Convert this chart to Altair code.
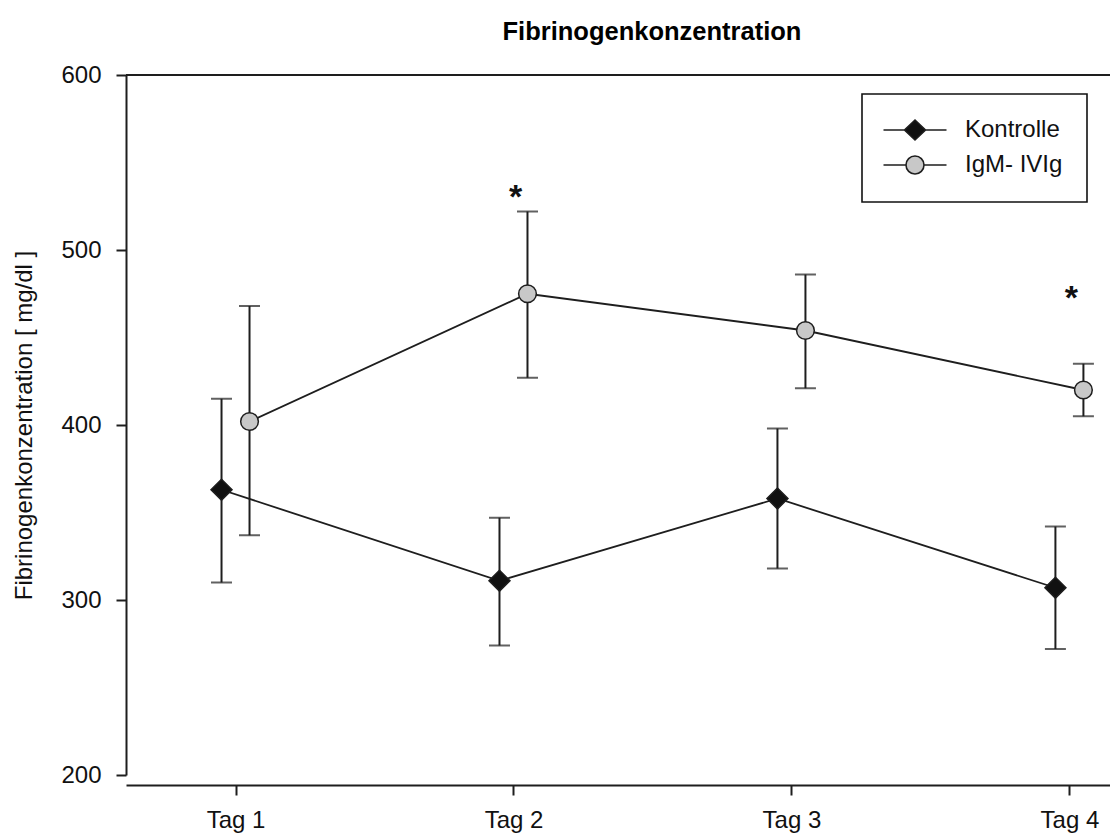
import altair as alt
import pandas as pd

# ---- data ----
tags = [1, 2, 3, 4]
groups = ["Kontrolle", "IgM- IVIg"]

kontrolle_mean = [363, 311, 358, 307]
kontrolle_lo = [310, 274, 318, 272]
kontrolle_hi = [415, 347, 398, 342]

igm_mean = [402, 475, 454, 420]
igm_lo = [337, 427, 421, 405]
igm_hi = [468, 522, 486, 435]

star_tags = [2, 4]
star_values = [534, 476]

y_ticks = [200, 300, 400, 500, 600]

FONT = "Liberation Sans"
INK = "#1e1e1e"

rows = []
for i, t in enumerate(tags):
    rows.append(dict(tag=t, group=groups[0], mean=kontrolle_mean[i], lo=kontrolle_lo[i], hi=kontrolle_hi[i]))
for i, t in enumerate(tags):
    rows.append(dict(tag=t, group=groups[1], mean=igm_mean[i], lo=igm_lo[i], hi=igm_hi[i]))
df = pd.DataFrame(rows)
stars = pd.DataFrame(dict(tag=star_tags, value=star_values, txt=["*"] * len(star_tags)))
frame = pd.DataFrame(dict(v=[600]))

W, H = 984, 700
xscale = alt.Scale(domain=[0.606, 4.146], nice=False, zero=False)
yscale = alt.Scale(domain=[200, 600], nice=False, zero=False)

xaxis = alt.Axis(values=tags, labelExpr="'Tag ' + datum.value", title=None, grid=False,
                 offset=10, tickSize=10, labelPadding=13)
yaxis = alt.Axis(values=y_ticks, title="Fibrinogenkonzentration [ mg/dl ]", grid=False,
                 tickSize=10, labelPadding=15, titlePadding=24)

X = alt.X("tag:Q", scale=xscale, axis=xaxis)
Y = alt.Y("mean:Q", scale=yscale, axis=yaxis)

styles = {
    groups[0]: dict(off=-14, shape="diamond", fill="#111111", size=441),
    groups[1]: dict(off=14, shape="circle", fill="#c8c8c8", size=313),
}

layers = []
for g in groups:
    s = styles[g]
    base = alt.Chart(df).transform_filter(alt.datum.group == g)
    line = base.mark_line(color=INK, strokeWidth=1.8, xOffset=s["off"]).encode(x=X, y=Y, order="tag:Q")
    err = base.mark_rule(color=INK, strokeWidth=2, xOffset=s["off"]).encode(
        x=X, y=alt.Y("lo:Q", scale=yscale, axis=yaxis), y2="hi:Q")
    cap_hi = base.mark_tick(color=INK, thickness=2, size=21, orient="horizontal", xOffset=s["off"]).encode(
        x=X, y=alt.Y("hi:Q", scale=yscale, axis=yaxis))
    cap_lo = base.mark_tick(color=INK, thickness=2, size=21, orient="horizontal", xOffset=s["off"]).encode(
        x=X, y=alt.Y("lo:Q", scale=yscale, axis=yaxis))
    layers += [line, err, cap_hi, cap_lo]

for g in groups:
    s = styles[g]
    pts = alt.Chart(df).transform_filter(alt.datum.group == g).mark_point(
        shape=s["shape"], filled=True, fill=s["fill"], stroke=INK, strokeWidth=1.5,
        size=s["size"], opacity=1, xOffset=s["off"]).encode(x=X, y=Y)
    layers.append(pts)

# legend carrier (invisible marks; legend symbols are a line with the marker)
diamond_leg = "M-3,0H-1M1,0H3M0,-0.95L1,0L0,0.95L-1,0Z"
circle_leg = "M-3,0H-0.857M0.857,0H3M-0.857,0A0.857,0.857 0 1,0 0.857,0A0.857,0.857 0 1,0 -0.857,0Z"
leg = alt.Legend(title=None, orient="none", legendX=736, legendY=19, padding=24,
                 symbolOpacity=1, symbolSize=441, symbolOffset=17, labelOffset=38,
                 symbolStrokeColor=INK, symbolStrokeWidth=1.6, labelFontSize=24,
                 labelFont=FONT, labelColor="#111", rowPadding=8, strokeColor="#111")
legend_layer = alt.Chart(df).mark_point(filled=True, opacity=0, strokeWidth=1.6).encode(
    x=X, y=Y,
    shape=alt.Shape("group:N", scale=alt.Scale(domain=groups, range=[diamond_leg, circle_leg]), legend=leg),
    fill=alt.Fill("group:N", scale=alt.Scale(domain=groups, range=["#111111", "#c8c8c8"]), legend=leg),
    stroke=alt.Stroke("group:N", scale=alt.Scale(domain=groups, range=[INK, INK]), legend=leg),
)
layers.append(legend_layer)

star_layer = alt.Chart(stars).mark_text(fontSize=34, fontWeight="bold", font=FONT, color="#111",
                                         baseline="middle", dy=7, dx=2).encode(
    x=alt.X("tag:Q", scale=xscale, axis=xaxis), y=alt.Y("value:Q", scale=yscale, axis=yaxis), text="txt:N")
layers.append(star_layer)

top_line = alt.Chart(frame).mark_rule(color=INK, strokeWidth=2).encode(
    y=alt.Y("v:Q", scale=yscale, axis=yaxis), x=alt.value(0), x2=alt.value(W))
layers.append(top_line)

chart = alt.layer(*layers).properties(
    width=W, height=H,
    title=alt.TitleParams("Fibrinogenkonzentration", fontSize=25.5, fontWeight="bold", font=FONT,
                          color="black", anchor="middle", dx=34, offset=18),
    autosize=alt.AutoSizeParams(type="none"),
    padding={"left": 118, "top": 67, "right": 0, "bottom": 58},
).configure_view(stroke=None).configure_axis(
    domainColor=INK, domainWidth=2, tickColor=INK, tickWidth=2,
    labelFont=FONT, labelFontSize=24, labelColor="#111",
    titleFont=FONT, titleFontSize=24, titleFontWeight="normal", titleColor="#111",
).configure_legend(strokeWidth=1.6)

chart.save("out.html", embed_options={"renderer": "svg", "actions": False})
